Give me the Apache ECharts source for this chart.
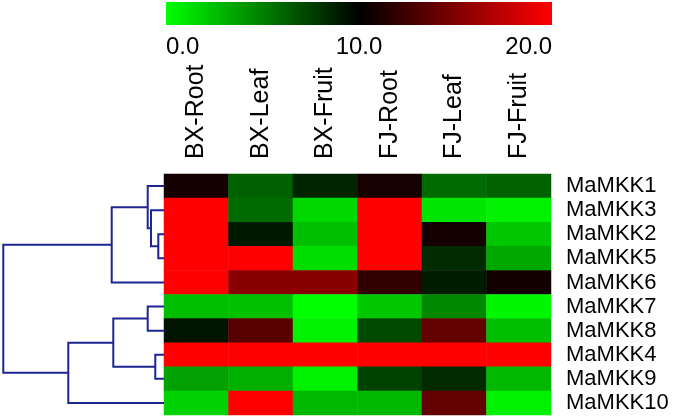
<!DOCTYPE html>
<html>
<head>
<meta charset="utf-8">
<script src="https://cdn.jsdelivr.net/npm/echarts@6/dist/echarts.min.js"></script>
<style>html,body{margin:0;padding:0;background:#fff;}#c{width:675px;height:419px;}</style>
</head>
<body>
<div id="c"></div>
<script>
const columns = ['BX-Root','BX-Leaf','BX-Fruit','FJ-Root','FJ-Leaf','FJ-Fruit'];
const genes = ['MaMKK1','MaMKK3','MaMKK2','MaMKK5','MaMKK6','MaMKK7','MaMKK8','MaMKK4','MaMKK9','MaMKK10'];
const rowMaMKK1  = [10.8, 6.2, 8.6, 10.9, 5.8, 6.1];
const rowMaMKK3  = [20, 5.8, 1.5, 20, 1.0, 0.5];
const rowMaMKK2  = [20, 9.0, 2.5, 20, 10.8, 2.2];
const rowMaMKK5  = [20, 20, 1.3, 20, 8.3, 3.4];
const rowMaMKK6  = [20, 15.4, 15.4, 11.9, 8.9, 10.7];
const rowMaMKK7  = [2.5, 2.4, 0, 2.2, 4.7, 0.3];
const rowMaMKK8  = [9.2, 13.5, 0.5, 7.1, 13.9, 2.5];
const rowMaMKK4  = [20, 20, 20, 20, 20, 20];
const rowMaMKK9  = [3.7, 3.1, 0.5, 7.4, 8.3, 2.8];
const rowMaMKK10 = [1.8, 20, 2.8, 2.8, 13.9, 0.5];
const scaleMin = 0, scaleMax = 20, scaleStep = 10;
// dendrogram merges: [childA, childB, height]; leaves 0..9 are rows, merged nodes are 10+k
const merges = [
  [2, 3, 5.7],
  [1, 10, 13],
  [0, 11, 16.3],
  [12, 4, 52.3],
  [5, 6, 16.3],
  [7, 8, 8.7],
  [14, 15, 50.7],
  [16, 9, 95.7],
  [13, 17, 160.7]
];

const rows = [rowMaMKK1,rowMaMKK3,rowMaMKK2,rowMaMKK5,rowMaMKK6,rowMaMKK7,rowMaMKK8,rowMaMKK4,rowMaMKK9,rowMaMKK10];
const heatData = [];
rows.forEach((r, ri) => r.forEach((v, ci) => heatData.push([ci, ri, v])));

const nodes = genes.map((g, i) => ({x: 0, y: i}));
const links = [];
merges.forEach(([a, b, h]) => {
  const A = nodes[a], B = nodes[b];
  links.push({coords: [[A.x, A.y], [h, A.y], [h, B.y], [B.x, B.y]]});
  nodes.push({x: h, y: (A.y + B.y) / 2});
});

const FONT = 'Liberation Sans, Arial, sans-serif';
const chart = echarts.init(document.getElementById('c'));
chart.setOption({
  animation: false,
  backgroundColor: '#fff',
  grid: [
    {left: 164, right: 124, top: 174, height: 241},
    {left: 3, width: 161, top: 174, height: 241},
    {left: 166, width: 386, top: 2, height: 23}
  ],
  xAxis: [
    {gridIndex: 0, type: 'category', data: columns, position: 'top',
     axisLine: {show: false}, axisTick: {show: false}, splitLine: {show: false},
     axisLabel: {rotate: -90, margin: 15, fontSize: 25, color: '#000', fontFamily: FONT, interval: 0}},
    {gridIndex: 1, type: 'value', min: 0, max: 161, inverse: true, show: false},
    {gridIndex: 2, type: 'value', min: scaleMin, max: scaleMax, interval: scaleStep,
     axisLine: {show: false}, axisTick: {show: false}, splitLine: {show: false},
     axisLabel: {margin: 10, fontSize: 24, color: '#000', fontFamily: FONT,
       alignMinLabel: 'left', alignMaxLabel: 'right',
       formatter: v => v.toFixed(1)}}
  ],
  yAxis: [
    {gridIndex: 0, type: 'category', data: genes, inverse: true, position: 'right',
     axisLine: {show: false}, axisTick: {show: false}, splitLine: {show: false},
     axisLabel: {margin: 15, fontSize: 22, color: '#000', fontFamily: FONT, interval: 0, align: 'left'}},
    {gridIndex: 1, type: 'value', min: -0.5, max: 9.5, inverse: true, show: false},
    {gridIndex: 2, type: 'value', min: 0, max: 1, show: false}
  ],
  visualMap: {
    show: false, type: 'continuous', min: scaleMin, max: scaleMax, seriesIndex: 0,
    inRange: {color: ['#00ff00', '#000000', '#ff0000']}
  },
  series: [
    {type: 'heatmap', xAxisIndex: 0, yAxisIndex: 0, data: heatData,
     itemStyle: {borderWidth: 0}, emphasis: {disabled: true}},
    {type: 'lines', coordinateSystem: 'cartesian2d', xAxisIndex: 1, yAxisIndex: 1,
     polyline: true, data: links, silent: true,
     lineStyle: {color: '#1c2590', width: 2, opacity: 1}},
    {type: 'custom', xAxisIndex: 2, yAxisIndex: 2, data: [[scaleMin, scaleMax]], silent: true,
     renderItem: (params, api) => {
       const p0 = api.coord([api.value(0), 0]);
       const p1 = api.coord([api.value(1), 1]);
       return {type: 'rect',
         shape: {x: p0[0], y: p1[1], width: p1[0] - p0[0], height: p0[1] - p1[1]},
         style: {fill: new echarts.graphic.LinearGradient(0, 0, 1, 0, [
           {offset: 0, color: '#00ff00'}, {offset: 0.5, color: '#000000'}, {offset: 1, color: '#ff0000'}])}};
     }}
  ]
});
</script>
</body>
</html>
